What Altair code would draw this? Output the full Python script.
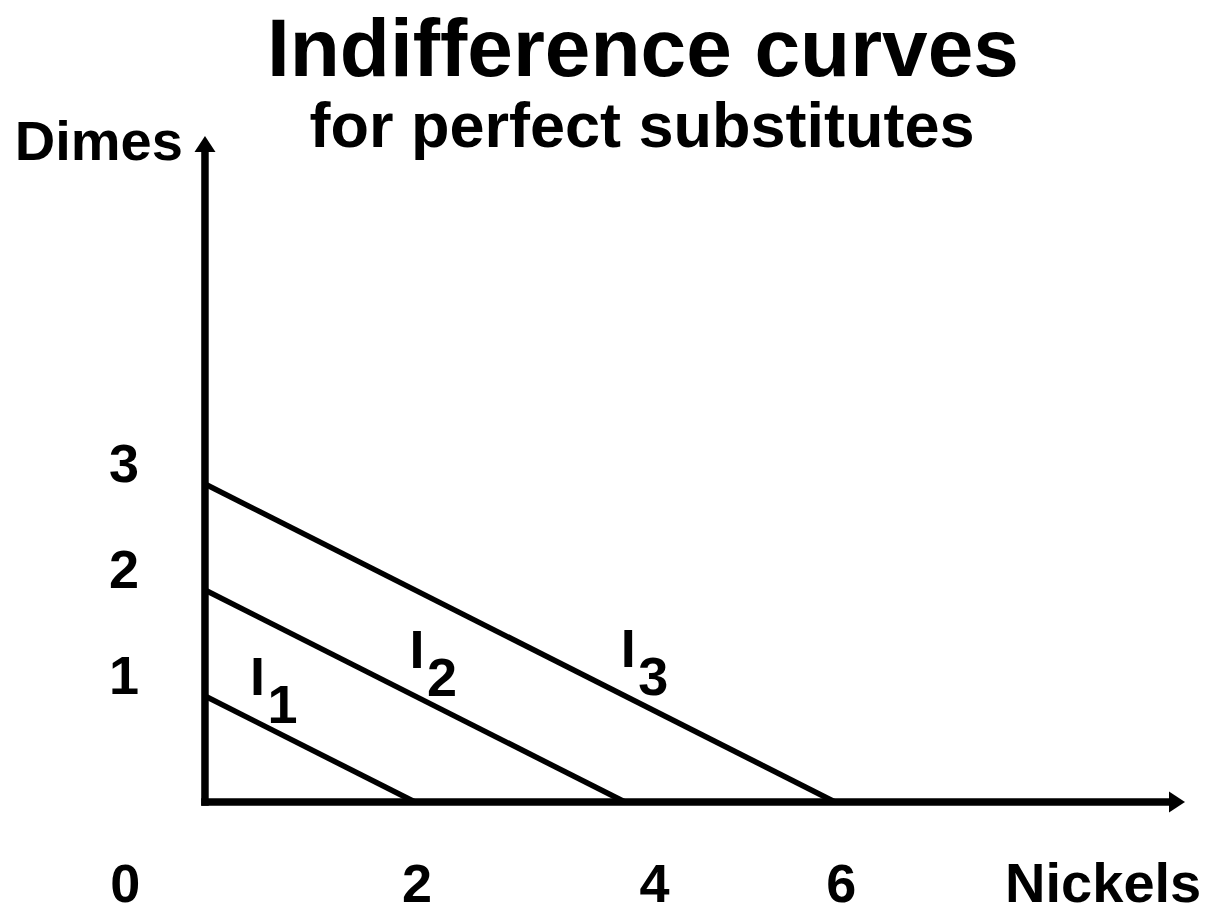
import altair as alt
import pandas as pd

# Indifference curves for perfect substitutes: 2 nickels = 1 dime
curve_names = ["I1", "I2", "I3"]
curve_digits = ["1", "2", "3"]
dimes_intercept = [1, 2, 3]
nickels_intercept = [2, 4, 6]

# Where each curve's name sits (data units)
label_x = [0.50, 2.02, 4.03]
label_y = [1.01, 1.26, 1.27]

# Axis tick labels
nickel_ticks = ["0", "2", "4", "6"]
nickel_tick_at = [-0.76, 2.02, 4.28, 6.06]
dime_ticks = ["1", "2", "3"]
dime_tick_at = [1, 2, 3]

# Axis extents (data units)
x_end, x_tip = 9.19, 9.257
y_end, y_tip = 6.15, 6.2075

X_DOMAIN = [-1.952, 9.676]
Y_DOMAIN = [-1.066, 7.566]
FONT = "Liberation Sans"

xs = alt.Scale(domain=X_DOMAIN, nice=False, zero=False)
ys = alt.Scale(domain=Y_DOMAIN, nice=False, zero=False)

rows = []
for name, d, n in zip(curve_names, dimes_intercept, nickels_intercept):
    rows.append({"curve": name, "nickels": 0, "dimes": d, "order": 0})
    rows.append({"curve": name, "nickels": n, "dimes": 0, "order": 1})
curves_df = pd.DataFrame(rows)

curves = alt.Chart(curves_df).mark_line(color="black", strokeWidth=5.5, strokeCap="butt").encode(
    x=alt.X("nickels:Q", scale=xs, axis=None),
    y=alt.Y("dimes:Q", scale=ys, axis=None),
    detail="curve:N",
    order="order:Q",
)

axes_df = pd.DataFrame({
    "x": [0, 0], "y": [0, 0], "x2": [x_end, 0], "y2": [0, y_end],
})
axes = alt.Chart(axes_df).mark_rule(color="black", strokeWidth=7.5, strokeCap="square").encode(
    x=alt.X("x:Q", scale=xs, axis=None),
    y=alt.Y("y:Q", scale=ys, axis=None),
    x2="x2:Q",
    y2="y2:Q",
)

up_arrow = alt.Chart(pd.DataFrame({"x": [0], "y": [y_tip]})).mark_point(
    shape="M-1,0.76L0,-0.76L1,0.76Z", size=441, filled=True, color="black", opacity=1
).encode(x=alt.X("x:Q", scale=xs, axis=None), y=alt.Y("y:Q", scale=ys, axis=None))

right_arrow = alt.Chart(pd.DataFrame({"x": [x_tip], "y": [0]})).mark_point(
    shape="M-0.76,-1L0.76,0L-0.76,1Z", size=441, filled=True, color="black", opacity=1
).encode(x=alt.X("x:Q", scale=xs, axis=None), y=alt.Y("y:Q", scale=ys, axis=None))

labels_df = pd.DataFrame({"x": label_x, "y": label_y, "digit": curve_digits})
text_style = dict(font=FONT, fontWeight="bold", color="black", baseline="alphabetic")

curve_i = alt.Chart(labels_df).mark_text(text="I", fontSize=54, align="center", **text_style).encode(
    x=alt.X("x:Q", scale=xs, axis=None), y=alt.Y("y:Q", scale=ys, axis=None)
)
curve_sub = alt.Chart(labels_df).mark_text(fontSize=54, align="center", dx=25, dy=28, **text_style).encode(
    x=alt.X("x:Q", scale=xs, axis=None), y=alt.Y("y:Q", scale=ys, axis=None), text="digit:N"
)

xticks_df = pd.DataFrame({"x": nickel_tick_at, "label": nickel_ticks})
xtick_text = alt.Chart(xticks_df).mark_text(fontSize=54, align="center", **text_style).encode(
    x=alt.X("x:Q", scale=xs, axis=None), y=alt.value(902), text="label:N"
)

yticks_df = pd.DataFrame({"y": dime_tick_at, "label": dime_ticks})
ytick_text = alt.Chart(yticks_df).mark_text(fontSize=54, align="center", dy=-2, **text_style).encode(
    x=alt.value(124), y=alt.Y("y:Q", scale=ys, axis=None), text="label:N"
)

titles_df = pd.DataFrame({
    "x": [4.171, 4.162, -0.21, 7.62],
    "y": [6.849, 6.179, 6.06, -0.943],
    "label": ["Indifference curves", "for perfect substitutes", "Dimes", "Nickels"],
    "size": [82, 63, 56, 56],
    "align": ["center", "center", "right", "left"],
})

def title_text(i):
    r = titles_df.iloc[[i]]
    return alt.Chart(r).mark_text(
        fontSize=int(r["size"].iloc[0]), align=r["align"].iloc[0], **text_style
    ).encode(x=alt.X("x:Q", scale=xs, axis=None), y=alt.Y("y:Q", scale=ys, axis=None), text="label:N")

chart = alt.layer(
    curves, axes, up_arrow, right_arrow, curve_i, curve_sub, xtick_text, ytick_text,
    *[title_text(i) for i in range(len(titles_df))]
).properties(
    width=1221, height=915, padding=0, autosize=alt.AutoSizeParams(type="none"),
    background="white",
).configure_view(stroke=None)

chart.save("out.html", embed_options={"renderer": "svg", "actions": False})
